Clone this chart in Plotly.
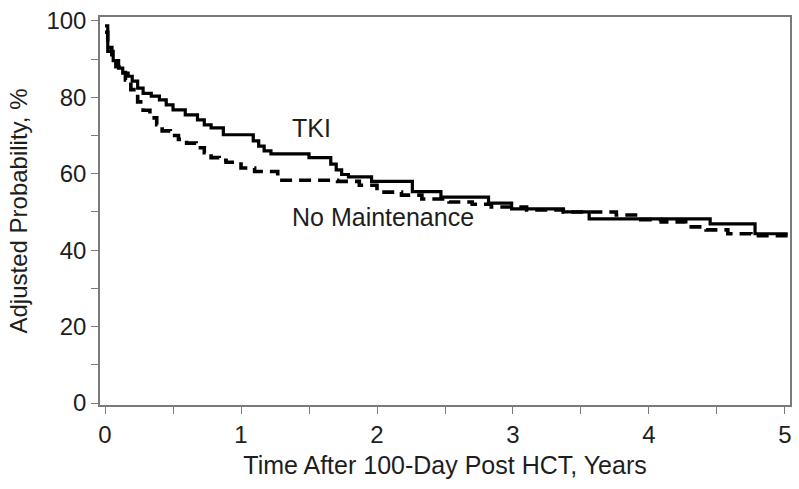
import plotly.graph_objects as go

# TKI (solid) step curve: time in years, adjusted probability in %
tki_t = [0, 0.02, 0.06, 0.10, 0.13, 0.17, 0.20, 0.24, 0.28, 0.34, 0.40, 0.45, 0.50, 0.59,
         0.68, 0.73, 0.78, 0.87, 1.09, 1.13, 1.17, 1.22, 1.50, 1.66, 1.70, 1.74, 1.79,
         1.96, 2.26, 2.47, 2.82, 2.99, 3.37, 3.56, 4.45, 4.78, 5.02]
tki_v = [98.7, 92.0, 89.6, 87.6, 86.3, 85.5, 84.2, 82.4, 81.0, 80.3, 79.3, 78.0, 76.7, 75.4,
         74.1, 72.8, 72.0, 70.2, 68.6, 67.2, 66.0, 65.2, 64.2, 62.5, 61.0, 59.8, 59.2,
         58.0, 55.3, 53.9, 52.3, 50.8, 50.0, 48.2, 46.9, 44.3, 44.3]

# No Maintenance (dashed) step curve
nm_t = [0, 0.02, 0.05, 0.08, 0.12, 0.15, 0.19, 0.24, 0.28, 0.33, 0.38, 0.42, 0.48, 0.54,
        0.60, 0.67, 0.73, 0.78, 0.84, 0.89, 1.00, 1.10, 1.27, 1.71, 1.87, 2.00, 2.18, 2.33,
        2.53, 2.70, 2.84, 3.10, 3.37, 3.76, 3.94, 4.09, 4.27, 4.42, 4.58, 4.75, 5.02]
nm_v = [97.0, 93.0, 90.0, 88.0, 86.5, 84.5, 82.0, 78.8, 76.6, 74.6, 72.8, 71.2, 70.0, 69.0,
        68.0, 66.8, 65.5, 64.2, 63.5, 63.0, 61.5, 60.6, 58.3, 58.0, 57.0, 55.2, 54.4, 53.4,
        52.6, 52.0, 51.3, 50.5, 50.0, 49.2, 48.0, 47.4, 46.1, 45.3, 44.3, 43.8, 43.6]

x_tickvals = [0, 0.5, 1, 1.5, 2, 2.5, 3, 3.5, 4, 4.5, 5]
x_ticktext = ["0", "", "1", "", "2", "", "3", "", "4", "", "5"]
y_tickvals = [0, 10, 20, 30, 40, 50, 60, 70, 80, 90, 100]
y_ticktext = ["0", "", "20", "", "40", "", "60", "", "80", "", "100"]

FONT = "Liberation Sans, Arial, sans-serif"
TXT = "#1e1e1e"

fig = go.Figure()
fig.add_trace(go.Scatter(x=nm_t, y=nm_v, mode="lines", line_shape="hv",
                         line=dict(color="black", width=3.6, dash="12px,7px"),
                         name="No Maintenance", showlegend=False))
fig.add_trace(go.Scatter(x=tki_t, y=tki_v, mode="lines", line_shape="hv",
                         line=dict(color="black", width=3.2),
                         name="TKI", showlegend=False))

fig.add_annotation(x=1.52, y=72, text="TKI", showarrow=False,
                   font=dict(family=FONT, size=25, color=TXT))
fig.add_annotation(x=2.045, y=48.7, text="No Maintenance", showarrow=False,
                   font=dict(family=FONT, size=25, color=TXT))

axis_common = dict(showline=True, linecolor="#7a7a7a", linewidth=1.5, mirror=True,
                   ticks="outside", ticklen=7, tickcolor="#7a7a7a", tickwidth=1.2,
                   showgrid=False, zeroline=False, ticklabeloverflow="allow",
                   tickfont=dict(family=FONT, size=24, color=TXT))

fig.update_xaxes(range=[-0.037, 5.037], tickvals=x_tickvals, ticktext=x_ticktext,
                 title=dict(text="Time After 100-Day Post HCT, Years",
                            font=dict(family=FONT, size=25, color=TXT), standoff=10),
                 **axis_common)
fig.update_yaxes(range=[-0.5, 101], tickvals=y_tickvals, ticktext=y_ticktext,
                 title=dict(text="Adjusted Probability, %",
                            font=dict(family=FONT, size=24, color=TXT), standoff=12),
                 **axis_common)

fig.update_layout(width=799, height=489, plot_bgcolor="white", paper_bgcolor="white",
                  margin=dict(l=100, r=7, t=13, b=84))

# remove the default 8px page margin so the 799x489 figure fills the window exactly
fig.write_html("out.html", config={"displayModeBar": False},
               post_script="document.body.style.margin='0';document.body.style.overflow='hidden';")
